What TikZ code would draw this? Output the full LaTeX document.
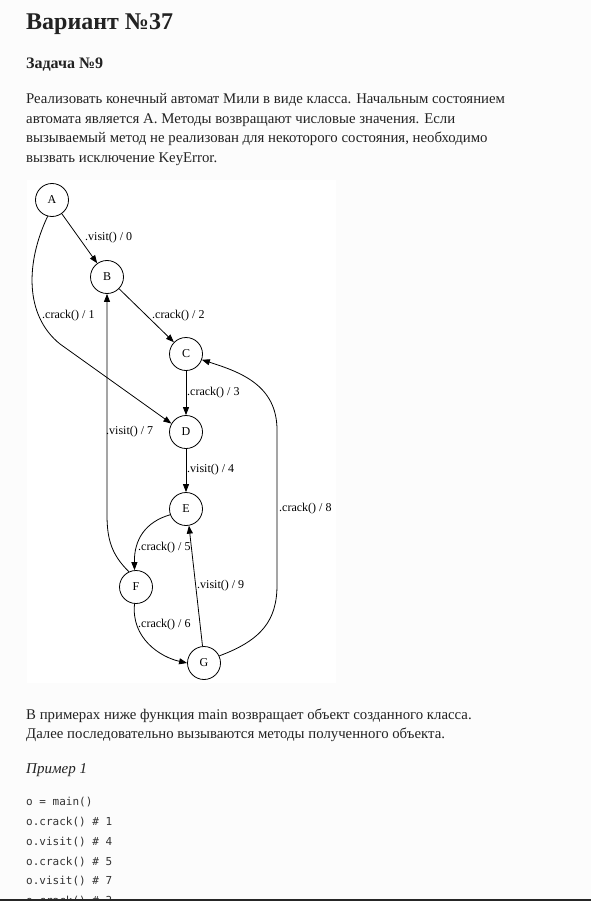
\documentclass[tikz,border=0pt]{standalone}
\usepackage{fontspec}
\setmainfont{Liberation Serif}
\setmonofont{DejaVu Sans Mono}
\usetikzlibrary{arrows.meta}
\definecolor{pagebg}{RGB}{252,252,252}
\definecolor{txt}{RGB}{34,34,34}
\definecolor{codec}{RGB}{51,51,51}
\begin{document}
\begin{tikzpicture}[x=1pt,y=-1pt,
  txtline/.style={anchor=base west,inner sep=0pt,text=txt,font=\fontsize{14.8}{18}\selectfont},
  codeline/.style={anchor=base west,inner sep=0pt,text=codec,font=\ttfamily\fontsize{11}{13}\selectfont},
  state/.style={circle,draw,line width=0.8pt,minimum size=33pt,inner sep=0pt,font=\fontsize{12}{14}\selectfont},
  elabel/.style={anchor=west,inner sep=0pt,font=\fontsize{12}{14}\selectfont},
  edge/.style={line width=0.8pt,-{Triangle[length=8pt,width=6pt]}}]
\useasboundingbox (0,0) rectangle (591,901);
\fill[pagebg] (0,0) rectangle (591,901);
\fill[white] (27,180) rectangle (336,683);

\node[txtline,font=\bfseries\fontsize{24}{27}\selectfont] (title) at (26,30) {Вариант №37};
\node[txtline,font=\bfseries\fontsize{16}{19}\selectfont] (task) at (26,69) {Задача №9};
\node[txtline] (p1) at (26,104) {Реализовать конечный автомат Мили в виде класса. Начальным состоянием};
\node[txtline] (p2) at (26,123.5) {автомата является A. Методы возвращают числовые значения. Если};
\node[txtline] (p3) at (26,143) {вызываемый метод не реализован для некоторого состояния, необходимо};
\node[txtline] (p4) at (26,162.5) {вызвать исключение KeyError.};

\node[state] (A) at (52,200) {A};
\node[state] (B) at (107,277) {B};
\node[state] (C) at (186,354) {C};
\node[state] (D) at (186,432) {D};
\node[state] (E) at (186,509) {E};
\node[state] (F) at (136,587) {F};
\node[state] (G) at (204,663) {G};

\draw[edge] (A) -- (B);
\draw[edge] (A.255) .. controls (26,262) and (24,315) .. (60,344) -- (D.150);
\draw[edge] (B) -- (C);
\draw[edge] (C) -- (D);
\draw[edge] (D) -- (E);
\draw[edge] (E.200) .. controls (145,522) and (134,540) .. (F.95);
\draw[edge] (F.265) .. controls (131,638) and (160,657) .. (G.west);
\draw[edge] (G.95) -- (E.-80);
\draw[edge] (F.115) .. controls (112,555) and (107,540) .. (107,515) -- (B.south);
\draw[edge] (G.25) .. controls (262,640) and (277,620) .. (277,585) -- (277,430) .. controls (277,385) and (240,372) .. (C.-20);

\node[elabel] (l0) at (85,238) {.visit() / 0};
\node[elabel] (l1) at (42,316) {.crack() / 1};
\node[elabel] (l2) at (152,316) {.crack() / 2};
\node[elabel] (l3) at (187,393) {.crack() / 3};
\node[elabel] (l7) at (106,432) {.visit() / 7};
\node[elabel] (l4) at (187,470) {.visit() / 4};
\node[elabel] (l8) at (279,509) {.crack() / 8};
\node[elabel] (l5) at (138,548) {.crack() / 5};
\node[elabel] (l9) at (197,586) {.visit() / 9};
\node[elabel] (l6) at (138,625) {.crack() / 6};

\node[txtline] (q1) at (26,719) {В примерах ниже функция main возвращает объект созданного класса.};
\node[txtline] (q2) at (26,738.5) {Далее последовательно вызываются методы полученного объекта.};
\node[txtline,font=\itshape\fontsize{15}{18}\selectfont] (ex) at (26,773) {Пример 1};

\node[codeline] (c1) at (26,805) {o = main()};
\node[codeline] (c2) at (26,825) {o.crack() \# 1};
\node[codeline] (c3) at (26,845) {o.visit() \# 4};
\node[codeline] (c4) at (26,865) {o.crack() \# 5};
\node[codeline] (c5) at (26,884.5) {o.visit() \# 7};
\begin{scope}
\clip (0,880) rectangle (591,899);
\node[codeline] (c6) at (26,904) {o.crack() \# 3};
\end{scope}
\fill[black!85] (0,899) rectangle (591,901);
\end{tikzpicture}
\end{document}
